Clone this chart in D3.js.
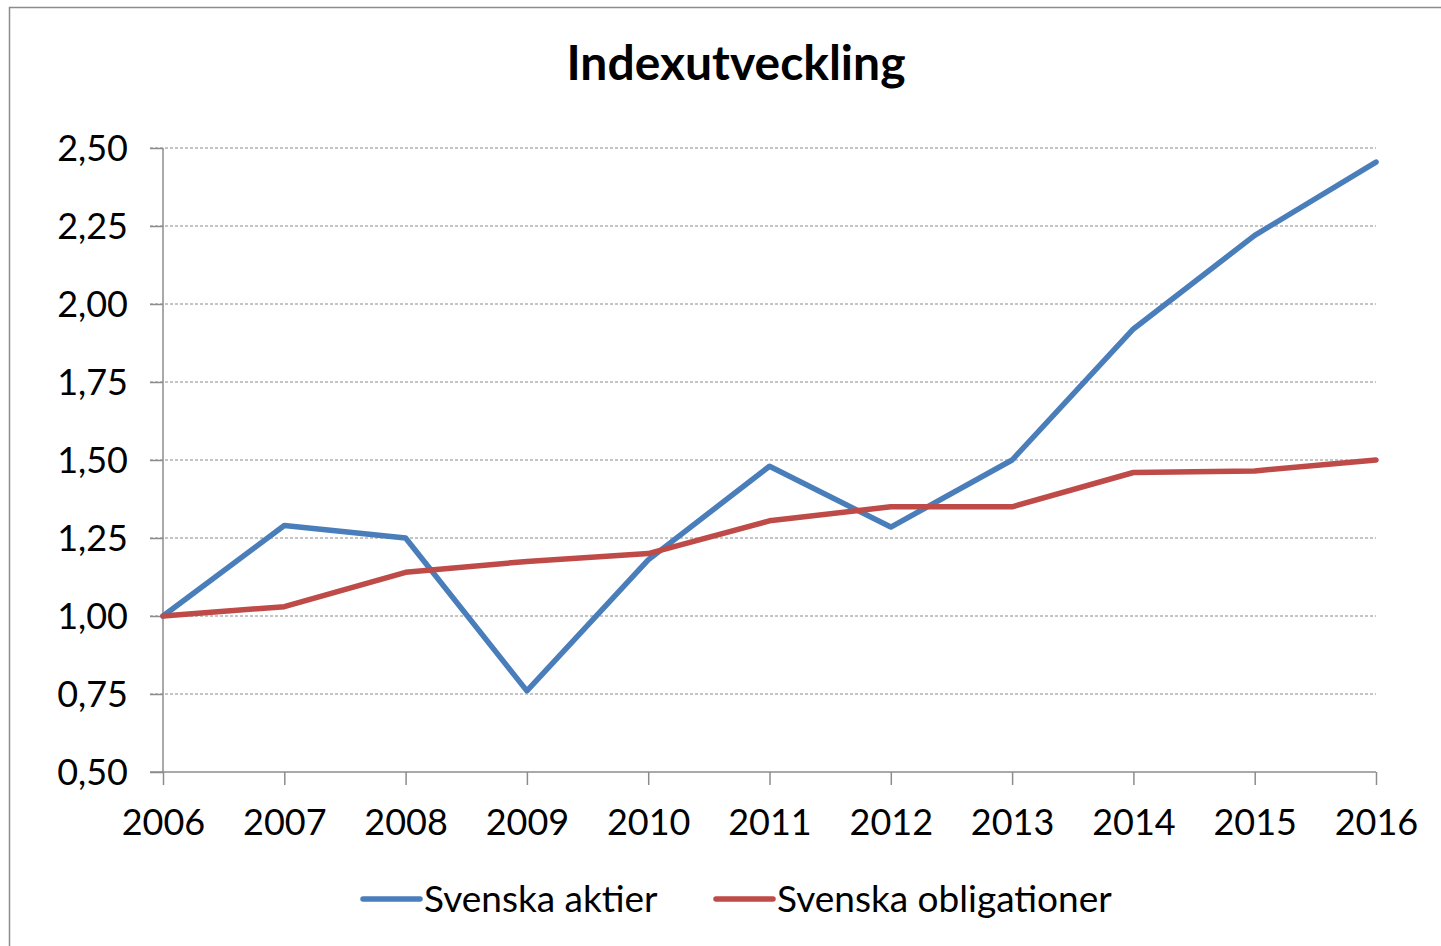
<!DOCTYPE html>
<html>
<head>
<meta charset="utf-8">
<script src="https://cdn.jsdelivr.net/npm/d3@7"></script>
<style>
  body { margin: 0; background: #fff; }
  text { font-family: Lato, "Open Sans", sans-serif; fill: #000; }
</style>
</head>
<body>
<svg width="1441" height="946"></svg>
<script>
const years = [2006, 2007, 2008, 2009, 2010, 2011, 2012, 2013, 2014, 2015, 2016];
const aktier = [1.00, 1.29, 1.25, 0.76, 1.18, 1.48, 1.285, 1.50, 1.92, 2.22, 2.455];
const obligationer = [1.00, 1.03, 1.14, 1.175, 1.20, 1.305, 1.35, 1.35, 1.46, 1.465, 1.50];
const yTicks = [0.5, 0.75, 1.0, 1.25, 1.5, 1.75, 2.0, 2.25, 2.5];
const seriesNames = ["Svenska aktier", "Svenska obligationer"];
const colors = ["#4A7EBB", "#BE4B48"];

const svg = d3.select("svg");

// chart frame
svg.append("rect")
  .attr("x", 9.5).attr("y", 7.5)
  .attr("width", 1460).attr("height", 960)
  .attr("fill", "none").attr("stroke", "#8c8c8c").attr("stroke-width", 1.5);

svg.append("text")
  .attr("x", 736).attr("y", 80)
  .attr("text-anchor", "middle")
  .style("font-size", "48px").style("font-weight", "bold")
  .text("Indexutveckling");

const x = d3.scalePoint().domain(years).range([163, 1376]);
const y = d3.scaleLinear().domain([0.5, 2.5]).range([772, 148]);
const fmt = d => d3.format(".2f")(d).replace(".", ",");

// gridlines
svg.append("g")
  .selectAll("line")
  .data(yTicks.slice(1))
  .join("line")
  .attr("x1", 150).attr("x2", 1376)
  .attr("y1", d => y(d)).attr("y2", d => y(d))
  .attr("stroke", "#8a8a8a").attr("stroke-width", 1)
  .attr("stroke-dasharray", "3,2");

// y axis
const yAxis = svg.append("g")
  .attr("transform", "translate(163,0)")
  .call(d3.axisLeft(y).tickValues(yTicks).tickFormat(fmt).tickSize(13).tickPadding(22));
yAxis.select(".domain").attr("stroke", "#8c8c8c").attr("stroke-width", 1.5);
yAxis.selectAll(".tick line").attr("stroke", "#8c8c8c").attr("stroke-width", 1.5);
yAxis.selectAll(".tick text").style("font-size", "36px").attr("dy", "0.34em");

// x axis
const xAxis = svg.append("g")
  .attr("transform", "translate(0,772)")
  .call(d3.axisBottom(x).tickSize(13).tickPadding(24));
xAxis.select(".domain").attr("stroke", "#8c8c8c").attr("stroke-width", 1.5);
xAxis.selectAll(".tick line").attr("stroke", "#8c8c8c").attr("stroke-width", 1.5);
xAxis.selectAll(".tick text").style("font-size", "36px");
yAxis.select(".domain").attr("d", "M0,148V772");
xAxis.select(".domain").attr("d", "M150,0H1376");

const line = d3.line().x((d, i) => x(years[i])).y(d => y(d));
[aktier, obligationer].forEach((s, i) => {
  svg.append("path")
    .datum(s)
    .attr("d", line)
    .attr("fill", "none")
    .attr("stroke", colors[i])
    .attr("stroke-width", 5.5)
    .attr("stroke-linejoin", "round")
    .attr("stroke-linecap", "round");
});

// legend
const legendX = [363, 716];
seriesNames.forEach((name, i) => {
  const g = svg.append("g").attr("transform", `translate(${legendX[i]},899)`);
  g.append("line").attr("x1", 0).attr("x2", 57).attr("y1", 0).attr("y2", 0)
    .attr("stroke", colors[i]).attr("stroke-width", 5.5).attr("stroke-linecap", "round");
  g.append("text").attr("x", 61).attr("y", 13)
    .style("font-size", "37px").text(name);
});
</script>
</body>
</html>
